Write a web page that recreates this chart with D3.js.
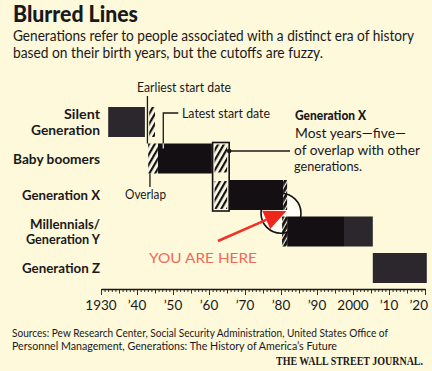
<!DOCTYPE html>
<html>
<head>
<meta charset="utf-8">
<title>Blurred Lines</title>
<script src="https://d3js.org/d3.v7.min.js"></script>
<style>
  html, body { margin: 0; padding: 0; background: #fdf9da; }
  svg { display: block; }
  text { font-family: Lato, "Open Sans", sans-serif; fill: #1b181b; }
</style>
</head>
<body>
<div id="chart"></div>
<script>
// generations (rows) and their labels
const generations = ["Silent Generation", "Baby boomers", "Generation X", "Millennials/Generation Y", "Generation Z"]
const rowLabels = [["Silent", "Generation"], ["Baby boomers"], ["Generation X"], ["Millennials/", "Generation Y"], ["Generation Z"]]

// solid bar pieces, birth years
const segGen = ["Silent Generation", "Baby boomers", "Generation X", "Millennials/Generation Y", "Millennials/Generation Y", "Generation Z"]
const segFrom = [1932, 1945.8, 1965.6, 1981.7, 1997.5, 2005.5]
const segTo = [1942.2, 1960.8, 1980.6, 1997.5, 2005.5, 2020.5]
const segTone = ["pale", "deep", "deep", "deep", "pale", "pale"]

// hatched overlap pieces
const overlapGen = ["Silent Generation", "Baby boomers", "Baby boomers", "Generation X"]
const overlapFrom = [1943.4, 1943.1, 1961, 1961]
const overlapTo = [1945, 1945.8, 1965.6, 1965.6]

// fuzzy (blurred) edges
const fuzzyGen = ["Generation X", "Millennials/Generation Y"]
const fuzzyFrom = [1980.6, 1980.3]
const fuzzyTo = [1981.7, 1981.7]

// axis
const tickYears = d3.range(1930, 2021, 10)
const tickLabels = ["1930", "\u201940", "\u201950", "\u201960", "\u201970", "\u201980", "\u201990", "2000", "\u201910", "\u201920"]

const w = 432, h = 371
const tones = { deep: "#140f13", pale: "#2c272d" }
const cream = "#fdf9da"

const svg = d3.select("#chart").append("svg").attr("width", w).attr("height", h)
svg.append("rect").attr("width", w).attr("height", h).attr("fill", cream)

const defs = svg.append("defs")
const hatch = defs.append("pattern").attr("id", "hatch")
    .attr("patternUnits", "userSpaceOnUse").attr("width", 5).attr("height", 5)
    .attr("patternTransform", "rotate(30)")
hatch.append("rect").attr("width", 5).attr("height", 5).attr("fill", "#fdfae6")
hatch.append("rect").attr("width", 2.2).attr("height", 5).attr("fill", "#161114")

const fuzz = defs.append("pattern").attr("id", "fuzz")
    .attr("patternUnits", "userSpaceOnUse").attr("width", 4).attr("height", 4)
    .attr("patternTransform", "rotate(30)")
fuzz.append("rect").attr("width", 4).attr("height", 4).attr("fill", "#f7f3e0")
fuzz.append("rect").attr("width", 2.8).attr("height", 4).attr("fill", "#140f13")

function fit(sel, width) {
    sel.attr("textLength", width).attr("lengthAdjust", "spacingAndGlyphs")
}

const x = d3.scaleLinear().domain([1930, 2020]).range([101, 425])
const y = d3.scalePoint().domain(generations).range([122, 268])
const barH = 30

// heading
svg.append("text").attr("x", 13).attr("y", 22).style("font-size", "23px").style("font-weight", 900)
    .text("Blurred Lines").call(fit, 125)
svg.append("text").attr("x", 13).attr("y", 41).style("font-size", "14.5px")
    .text("Generations refer to people associated with a distinct era of history").call(fit, 401)
svg.append("text").attr("x", 13).attr("y", 58).style("font-size", "14.5px")
    .text("based on their birth years, but the cutoffs are fuzzy.").call(fit, 310)

// row labels
rowLabels.forEach((lines, i) => {
    const c = y(generations[i])
    const t = svg.append("text").attr("text-anchor", "end").style("font-size", "14px").style("font-weight", 700)
    if (lines.length === 1) {
        t.append("tspan").attr("x", 100).attr("y", c + 5).text(lines[0])
    } else {
        t.append("tspan").attr("x", 100).attr("y", c - 3).text(lines[0])
        t.append("tspan").attr("x", 100).attr("y", c + 12.5).text(lines[1])
    }
})
const labelWidths = [36, 69, 87, 78, 70, 74, 78]
svg.selectAll("tspan").each(function (d, i) {
    d3.select(this).attr("textLength", labelWidths[i]).attr("lengthAdjust", "spacingAndGlyphs")
})

// circle under the blurred boundary (white-ish inside)
const focusYear = 1980, focusR = 20
const focusY = (y("Generation X") + y("Millennials/Generation Y")) / 2
svg.append("circle").attr("cx", x(focusYear)).attr("cy", focusY).attr("r", focusR).attr("fill", "#fffef4")

// solid bars
svg.selectAll("rect.seg").data(segGen).enter().append("rect")
    .attr("class", "seg")
    .attr("x", (d, i) => x(segFrom[i]))
    .attr("width", (d, i) => x(segTo[i]) - x(segFrom[i]))
    .attr("y", d => y(d) - barH / 2)
    .attr("height", barH)
    .attr("fill", (d, i) => tones[segTone[i]])

// Gen X box around the boomer/X overlap
svg.append("rect")
    .attr("x", x(overlapFrom[2])).attr("width", x(overlapTo[2]) - x(overlapFrom[2]))
    .attr("y", y("Baby boomers") - barH / 2 - 1)
    .attr("height", y("Generation X") - y("Baby boomers") + barH + 2)
    .attr("fill", cream).attr("stroke", "#141014").attr("stroke-width", 1.6)

// hatched overlaps
svg.selectAll("rect.ov").data(overlapGen).enter().append("rect")
    .attr("class", "ov")
    .attr("x", (d, i) => x(overlapFrom[i]) + (i >= 2 ? 2 : 0))
    .attr("width", (d, i) => x(overlapTo[i]) - x(overlapFrom[i]) - (i >= 2 ? 4 : 0))
    .attr("y", (d, i) => y(d) - barH / 2 + (i >= 2 ? 1 : 0))
    .attr("height", (d, i) => barH - (i >= 2 ? 2 : 0))
    .attr("fill", "url(#hatch)")

// fuzzy edges
svg.selectAll("rect.fz").data(fuzzyGen).enter().append("rect")
    .attr("class", "fz")
    .attr("x", (d, i) => x(fuzzyFrom[i]))
    .attr("width", (d, i) => x(fuzzyTo[i]) - x(fuzzyFrom[i]))
    .attr("y", d => y(d) - barH / 2)
    .attr("height", barH)
    .attr("fill", "url(#fuzz)")

svg.append("circle").attr("cx", x(focusYear)).attr("cy", focusY).attr("r", focusR)
    .attr("fill", "none").attr("stroke", "#111").attr("stroke-width", 1.6)

// annotations
const ink = "#1b171a"
const earliest = 1942.9, latest = 1947.3, overlapMark = 1943.6
svg.append("line").attr("x1", x(earliest)).attr("x2", x(earliest))
    .attr("y1", 96).attr("y2", y("Baby boomers") - barH / 2)
    .attr("stroke", ink).attr("stroke-width", 1.3)
svg.append("text").attr("x", 137).attr("y", 92).style("font-size", "13px")
    .text("Earliest start date").call(fit, 94)

svg.append("path")
    .attr("d", `M${x(latest) + 15},113H${x(latest)}V${y("Baby boomers") - barH / 2}`)
    .attr("fill", "none").attr("stroke", ink).attr("stroke-width", 1.3)
svg.append("line").attr("x1", x(latest)).attr("x2", x(latest))
    .attr("y1", y("Baby boomers") - barH / 2).attr("y2", y("Baby boomers") - barH / 2 + 5)
    .attr("stroke", "#e9e4cc").attr("stroke-width", 1.3)
svg.append("text").attr("x", 182).attr("y", 118).style("font-size", "13px")
    .text("Latest start date").call(fit, 88)

svg.append("line").attr("x1", x(overlapMark)).attr("x2", x(overlapMark))
    .attr("y1", y("Baby boomers") + barH / 2).attr("y2", 187)
    .attr("stroke", ink).attr("stroke-width", 1.3)
svg.append("text").attr("x", 125).attr("y", 199).style("font-size", "13px")
    .text("Overlap").call(fit, 41)

// Gen X note
const noteY = y("Baby boomers") - 7.5
svg.append("line").attr("x1", x(overlapTo[2])).attr("x2", 290).attr("y1", noteY).attr("y2", noteY)
    .attr("stroke", ink).attr("stroke-width", 1.3)
svg.append("circle").attr("cx", x(overlapTo[2])).attr("cy", noteY).attr("r", 2.3).attr("fill", ink)
svg.append("text").attr("x", 295).attr("y", 120).style("font-size", "13px").style("font-weight", 900)
    .text("Generation X").call(fit, 71)
svg.append("text").attr("x", 295).attr("y", 138).style("font-size", "14px")
    .text("Most years\u2014five\u2014").call(fit, 111)
svg.append("text").attr("x", 294).attr("y", 155).style("font-size", "14px")
    .text("of overlap with other").call(fit, 126)
svg.append("text").attr("x", 294).attr("y", 171).style("font-size", "14px")
    .text("generations.").call(fit, 68)

// you are here arrow
const tail = [x(1962.5), 241], tip = [x(1981.5), 211]
const dx = tip[0] - tail[0], dy = tip[1] - tail[1], len = Math.hypot(dx, dy)
const ux = dx / len, uy = dy / len, headL = 22, headW = 10
const base = [tip[0] - ux * headL, tip[1] - uy * headL]
svg.append("line").attr("x1", tail[0]).attr("y1", tail[1]).attr("x2", base[0]).attr("y2", base[1])
    .attr("stroke", "#ee3426").attr("stroke-width", 2.6)
svg.append("path")
    .attr("d", `M${tip[0]},${tip[1]}L${base[0] - uy * headW},${base[1] + ux * headW}L${base[0] + uy * headW},${base[1] - ux * headW}Z`)
    .attr("fill", "#f0261a")
svg.append("text").attr("x", 149).attr("y", 263).style("font-size", "14px").style("fill", "#f0685a")
    .text("YOU ARE HERE").call(fit, 108)

// axis
const axisY = 289
const axis = d3.axisBottom(x).tickValues(d3.range(1930, 2021)).tickSizeInner(3).tickSizeOuter(0).tickFormat("")
const gx = svg.append("g").attr("transform", `translate(0,${axisY})`).call(axis)
gx.select(".domain").attr("stroke", ink).attr("stroke-width", 1.4)
gx.selectAll(".tick line").attr("stroke", ink).attr("stroke-width", 0.9)
    .attr("y2", d => d % 10 === 0 ? 6 : d % 5 === 0 ? 4.5 : 3)

svg.selectAll("text.tl").data(tickYears).enter().append("text")
    .attr("class", "tl")
    .attr("x", (d, i) => i === tickYears.length - 1 ? x(d) + 3 : x(d))
    .attr("y", 310)
    .attr("text-anchor", (d, i) => i === tickYears.length - 1 ? "end" : "middle")
    .style("font-size", "13.5px")
    .text((d, i) => tickLabels[i])

// source + credit
svg.append("text").attr("x", 12).attr("y", 337).style("font-size", "12px")
    .text("Sources: Pew Research Center, Social Security Administration, United States Office of").call(fit, 376)
svg.append("text").attr("x", 12).attr("y", 349.5).style("font-size", "12px")
    .text("Personnel Management, Generations: The History of America\u2019s Future").call(fit, 325)
svg.append("text").attr("x", 276).attr("y", 365).style("font-size", "12px").style("font-weight", 700)
    .style("font-family", "'Liberation Serif', 'DejaVu Serif', serif")
    .text("THE WALL STREET JOURNAL.").call(fit, 147)
</script>
</body>
</html>
